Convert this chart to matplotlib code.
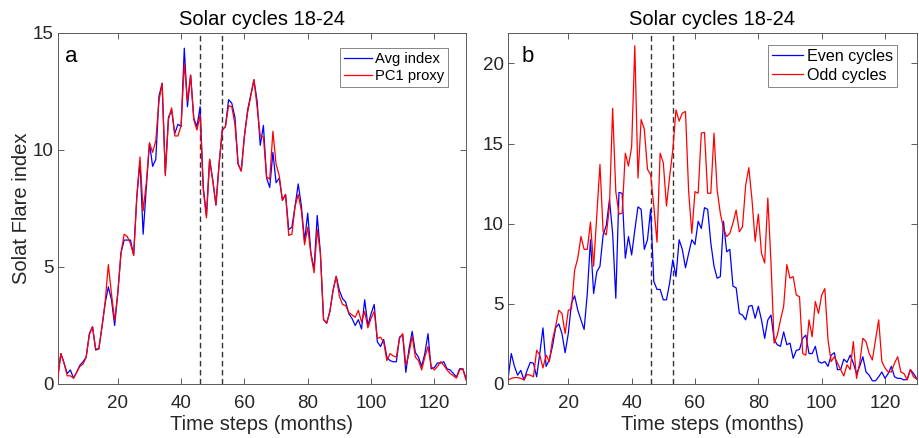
import numpy as np
import matplotlib
matplotlib.use("Agg")
import matplotlib.pyplot as plt

plt.rcParams['font.family'] = ['Liberation Sans', 'DejaVu Sans']

# months 1..130
months = np.arange(1, 131)

# panel a
avg_index = [
    0.3, 1.3, 0.9, 0.45, 0.6, 0.25, 0.5, 0.8, 0.95, 1.15,
    2.15, 2.45, 1.45, 1.5, 2.45, 3.45, 4.15, 3.6, 2.5, 3.9,
    5.6, 6.15, 6.15, 6.15, 5.5, 8.0, 9.5, 6.4, 8.4, 10.3,
    9.3, 9.6, 12.3, 12.85, 9.0, 11.4, 11.7, 10.7, 11.1, 11.0,
    14.35, 11.85, 13.2, 11.35, 11.0, 11.85, 8.4, 7.2, 9.6, 8.7,
    7.65, 9.4, 10.85, 11.0, 12.15, 12.0, 11.4, 9.4, 9.1, 10.6,
    11.7, 12.35, 13.0, 12.1, 10.2, 11.05, 8.8, 8.4, 9.9, 8.6,
    8.8, 7.85, 8.1, 6.6, 6.7, 7.6, 8.55, 7.6, 6.1, 7.3,
    5.6, 4.9, 7.2, 5.6, 2.75, 2.6, 3.1, 4.0, 4.6, 4.0,
    3.65, 3.5, 3.0, 2.8, 2.5, 2.75, 2.35, 3.6, 2.5, 3.0,
    3.4, 1.8, 1.6, 1.9, 1.15, 1.0, 0.95, 0.95, 2.0, 2.1,
    0.5, 1.5, 2.25, 1.35, 1.15, 0.75, 1.3, 2.15, 0.65, 0.7,
    0.9, 0.9, 0.95, 0.65, 0.6, 0.45, 0.3, 0.65, 0.65, 0.25,
]
pc1_proxy = [
    0.2, 1.3, 0.9, 0.35, 0.35, 0.25, 0.5, 0.75, 0.85, 1.15,
    2.1, 2.45, 1.5, 1.5, 2.45, 3.5, 5.1, 3.85, 2.7, 3.9,
    5.6, 6.4, 6.3, 6.0, 5.5, 8.0, 9.7, 7.4, 8.6, 10.3,
    9.9, 10.4, 12.1, 12.85, 8.9, 11.3, 11.8, 10.6, 10.6, 11.05,
    13.7, 12.1, 13.2, 11.3, 10.85, 11.5, 8.3, 7.1, 9.6, 8.7,
    7.65, 9.4, 10.85, 11.0, 11.9, 11.85, 11.1, 9.4, 9.1, 10.6,
    11.6, 12.3, 13.0, 11.85, 10.6, 10.55, 8.85, 8.75, 10.8, 9.4,
    8.9, 7.85, 8.1, 6.35, 6.4, 7.6, 8.1, 7.4, 5.95, 6.7,
    5.55, 4.75, 6.6, 5.6, 2.75, 2.6, 3.1, 4.0, 4.6, 3.75,
    3.4, 3.35, 3.05, 2.95, 2.85, 3.15, 2.65, 3.1, 2.4, 2.8,
    3.1, 1.95, 2.0, 1.8, 1.0, 1.3, 1.2, 1.15, 1.95, 2.15,
    0.8, 1.3, 2.05, 1.15, 1.0, 0.6, 1.15, 1.6, 0.75, 0.6,
    0.75, 0.95, 0.8, 0.6, 0.45, 0.35, 0.25, 0.6, 0.65, 0.17,
]

# panel b
even_cycles = [
    0.35, 1.9, 1.1, 0.55, 0.85, 0.25, 0.85, 1.35, 1.3, 0.45,
    1.9, 3.5, 1.1, 1.5, 2.35, 3.5, 3.75, 3.15, 1.95, 3.15,
    5.05, 5.5, 4.6, 4.0, 3.4, 5.65, 9.0, 5.65, 7.0, 7.35,
    9.3, 9.9, 11.5, 9.4, 5.35, 11.95, 11.9, 7.85, 9.2, 8.05,
    9.6, 11.05, 10.9, 8.4, 9.0, 10.9, 6.4, 5.9, 5.9, 5.25,
    5.25, 6.3, 7.75, 6.7, 9.0, 8.4, 7.25, 8.15, 9.0, 8.7,
    10.15, 9.7, 11.0, 10.9, 8.8, 7.35, 6.6, 6.7, 10.15, 8.25,
    8.4, 6.1, 6.0, 4.4, 4.3, 4.0, 4.85, 4.9, 4.1, 4.85,
    4.0, 2.85, 4.0, 4.3, 2.75, 2.45, 2.35, 3.25, 2.45, 2.55,
    1.6, 2.1, 2.15, 2.85, 3.05, 1.9, 1.9, 2.35, 1.4, 1.3,
    1.4, 1.1, 1.8, 1.95, 0.9, 0.9, 1.55, 1.35, 1.8, 1.3,
    0.65, 1.1, 1.7, 0.75, 0.55, 0.2, 0.2, 0.45, 0.75, 0.35,
    0.65, 1.1, 0.45, 0.35, 0.35, 0.25, 0.3, 0.9, 0.65, 0.35,
]
odd_cycles = [
    0.25, 0.35, 0.4, 0.4, 0.35, 0.25, 0.6, 0.55, 0.45, 2.1,
    1.8, 1.0, 1.8, 1.4, 2.75, 3.6, 4.6, 4.4, 3.15, 4.6,
    4.7, 7.1, 7.85, 9.2, 8.4, 8.4, 10.1, 7.35, 10.5, 13.7,
    9.5, 9.3, 11.1, 17.2, 12.0, 10.6, 10.65, 14.4, 13.6, 14.8,
    21.1, 12.85, 16.5, 15.9, 13.4, 13.05, 11.1, 8.85, 14.4, 13.8,
    11.1, 12.95, 14.6, 17.1, 16.4, 16.9, 17.0, 12.0, 9.4, 12.0,
    11.9, 15.65, 15.7, 11.9, 11.9, 15.65, 12.1, 10.65, 9.7, 9.2,
    9.4, 10.05, 10.85, 9.5, 9.8, 12.4, 13.5, 11.5, 8.9, 10.6,
    8.15, 7.55, 11.6, 7.55, 2.55, 3.05, 4.0, 4.85, 7.45, 6.6,
    6.7, 5.55, 5.45, 1.9, 1.8, 4.0, 2.95, 5.15, 4.4, 5.55,
    5.95, 2.75, 1.4, 1.7, 1.3, 0.9, 0.5, 1.2, 0.9, 2.65,
    0.35, 1.3, 2.85, 2.65, 1.9, 1.5, 2.75, 4.0, 1.4, 1.0,
    0.75, 0.75, 1.3, 1.7, 0.75, 0.65, 0.25, 0.9, 0.45, 0.3,
]

cycle_marks = [46, 53]
dark = '#262626'
frame = '#5a5a5a'

fig = plt.figure(figsize=(9.2, 4.38), dpi=100)
ax1 = fig.add_axes([0.0627, 0.1233, 0.4438, 0.8014])
ax2 = fig.add_axes([0.5523, 0.1233, 0.4441, 0.8014])


def style_axes(ax, ylim, yticks):
    ax.set_xlim(1, 130)
    ax.set_ylim(*ylim)
    ax.set_xticks([20, 40, 60, 80, 100, 120])
    ax.set_yticks(yticks)
    for s in ax.spines.values():
        s.set_color(frame)
        s.set_linewidth(0.7)
    ax.tick_params(direction='in', length=4, width=0.7, color=frame,
                   labelcolor=dark, labelsize=13.5, top=True, right=True)
    ax.tick_params(axis='x', pad=8)
    ax.tick_params(axis='y', pad=3)
    ax.set_title('Solar cycles 18-24', fontsize=14.5, color='black', pad=6)
    ax.set_xlabel('Time steps (months)', fontsize=14.5, color=dark, labelpad=2)
    for m in cycle_marks:
        ax.axvline(m, color='0.2', lw=1.0, ls=(0, (4, 2.5)), zorder=1)


# panel a
ax1.plot(months, avg_index, color='blue', lw=0.9, label='Avg index', zorder=2)
ax1.plot(months, pc1_proxy, color='red', lw=0.9, label='PC1 proxy', zorder=3)
style_axes(ax1, (0, 15), [0, 5, 10, 15])
ax1.set_ylabel('Solat Flare index', fontsize=14.5, color=dark, labelpad=1)
ax1.text(0.018, 0.916, 'a', transform=ax1.transAxes, fontsize=16, va='baseline')
leg1 = ax1.legend(loc='upper right', bbox_to_anchor=(0.956, 0.957), borderaxespad=0,
                  fontsize=10.6, handlelength=1.9, handletextpad=0.25,
                  borderpad=0.25, labelspacing=0.25, fancybox=False, framealpha=1)
leg1.get_frame().set_edgecolor('0.45')
leg1.get_frame().set_linewidth(0.6)

# panel b
ax2.plot(months, even_cycles, color='blue', lw=0.9, label='Even cycles', zorder=2)
ax2.plot(months, odd_cycles, color='red', lw=0.9, label='Odd cycles', zorder=3)
style_axes(ax2, (0, 21.9), [0, 5, 10, 15, 20])
ax2.text(0.032, 0.916, 'b', transform=ax2.transAxes, fontsize=16, va='baseline')
leg2 = ax2.legend(loc='upper right', bbox_to_anchor=(0.952, 0.966), borderaxespad=0,
                  fontsize=11.6, handlelength=1.9, handletextpad=0.25,
                  borderpad=0.25, labelspacing=0.25, fancybox=False, framealpha=1)
leg2.get_frame().set_edgecolor('0.45')
leg2.get_frame().set_linewidth(0.6)

fig.savefig('out.png', dpi=100)
